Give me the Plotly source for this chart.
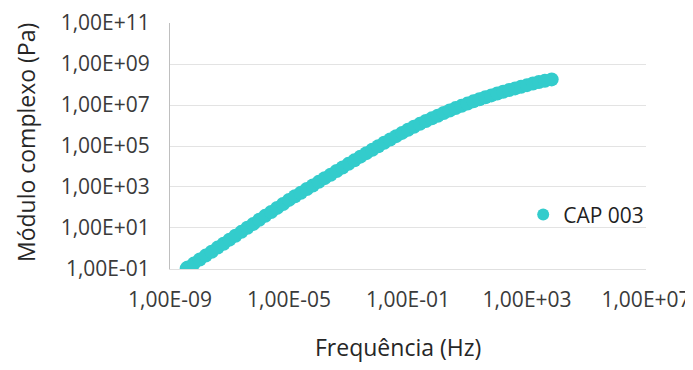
import plotly.graph_objects as go

# Data (log-log master curve)
frequencia_hz = [
    3.63e-9, 3.98e-9, 6.31e-9, 1.00e-8, 1.58e-8, 2.51e-8, 3.98e-8, 6.31e-8,
    1.00e-7, 1.58e-7, 2.51e-7, 3.98e-7, 6.31e-7, 1.00e-6, 1.58e-6, 2.51e-6,
    3.98e-6, 6.31e-6, 1.00e-5, 1.58e-5, 2.51e-5, 3.98e-5, 6.31e-5, 1.00e-4,
    1.58e-4, 2.51e-4, 3.98e-4, 6.31e-4, 1.00e-3, 1.58e-3, 2.51e-3, 3.98e-3,
    6.31e-3, 1.00e-2, 1.58e-2, 2.51e-2, 3.98e-2, 6.31e-2, 0.100, 0.158,
    0.251, 0.398, 0.631, 1.00, 1.58, 2.51, 3.98, 6.31,
    10.0, 15.8, 25.1, 39.8, 63.1, 100, 158, 251,
    398, 631, 1000, 1585, 2512, 3981, 6761,
]
modulo_complexo_pa = [
    0.107, 0.117, 0.182, 0.288, 0.447, 0.692, 1.10, 1.70,
    2.69, 4.17, 6.46, 10.2, 15.8, 25.1, 38.9, 60.3,
    95.5, 148, 234, 355, 525, 794, 1175, 1778,
    2692, 3981, 6026, 8913, 13490, 19950, 30200, 44670,
    66070, 97720, 1.445e5, 2.089e5, 3.020e5, 4.365e5, 6.166e5, 8.710e5,
    1.202e6, 1.660e6, 2.239e6, 3.020e6, 4.074e6, 5.370e6, 7.079e6, 9.120e6,
    1.175e7, 1.514e7, 1.905e7, 2.399e7, 2.951e7, 3.631e7, 4.467e7, 5.370e7,
    6.457e7, 7.762e7, 9.333e7, 1.122e8, 1.318e8, 1.514e8, 1.778e8,
]
serie_nome = "CAP 003"

x_tick_vals = [1e-9, 1e-5, 1e-1, 1e3, 1e7]
x_tick_text = ["1,00E-09", "1,00E-05", "1,00E-01", "1,00E+03", "1,00E+07"]
y_tick_vals = [1e-1, 1e1, 1e3, 1e5, 1e7, 1e9, 1e11]
y_tick_text = ["1,00E-01", "1,00E+01", "1,00E+03", "1,00E+05", "1,00E+07", "1,00E+09", "1,00E+11"]

n = min(len(frequencia_hz), len(modulo_complexo_pa))

FONT = "Open Sans"
FS = 21
FT = 23
fig = go.Figure()
fig.add_trace(go.Scatter(
    x=frequencia_hz[:n], y=modulo_complexo_pa[:n],
    mode="markers", name=serie_nome,
    marker=dict(color="#33CCCC", size=14, line=dict(width=0)),
))

# page body adds an 8px margin, so the figure is 8px smaller and shifted
fig.update_layout(
    width=685, height=362,
    margin=dict(l=162, r=47, t=15, b=101),
    paper_bgcolor="white", plot_bgcolor="white",
    font=dict(family=FONT, size=FS, color="#3A3A3A"),
    showlegend=True,
    legend=dict(x=0.742, y=0.22, xanchor="left", yanchor="middle",
                bgcolor="rgba(0,0,0,0)", font=dict(size=FS, color="#1F1F1F"),
                itemsizing="constant"),
    xaxis=dict(
        type="log", range=[-9, 7], automargin=False,
        tickvals=x_tick_vals, ticktext=x_tick_text,
        showgrid=False, zeroline=False,
        showline=True, linecolor="#E0E0E0", linewidth=1,
        ticks="", ticklabelstandoff=12, ticklabeloverflow="allow",
    ),
    yaxis=dict(
        type="log", range=[-1.003, 11.003], automargin=False,
        tickvals=y_tick_vals, ticktext=y_tick_text,
        showgrid=True, gridcolor="#E3E3E3", gridwidth=1,
        zeroline=False, showline=True, linecolor="#BFBFBF", linewidth=1,
        ticks="", ticklabelstandoff=15, ticklabeloverflow="allow",
    ),
    annotations=[
        dict(text="Frequência (Hz)", xref="paper", yref="paper",
             x=0.478, y=-0.317, xanchor="center", yanchor="middle",
             showarrow=False, font=dict(size=FT, color="#262626")),
        dict(text="Módulo complexo (Pa)", xref="paper", yref="paper",
             x=-0.3025, y=0.512, xanchor="center", yanchor="middle",
             textangle=-90, showarrow=False, font=dict(size=FT, color="#262626")),
    ],
)

fig.write_html("out.html")
